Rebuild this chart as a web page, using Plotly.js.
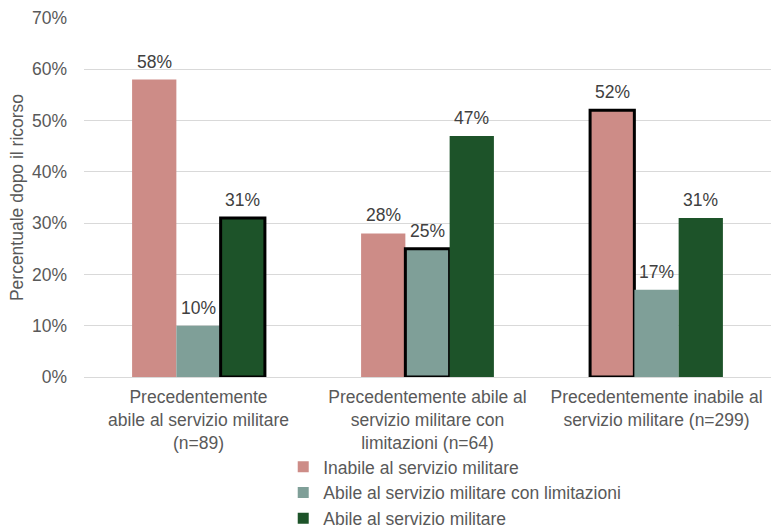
<!DOCTYPE html>
<html>
<head>
<meta charset="utf-8">
<script src="https://cdn.plot.ly/plotly-3.0.1.min.js"></script>
<style>html,body{margin:0;padding:0;background:#fff;}#chart{width:771px;height:528px;}</style>
</head>
<body>
<div id="chart"></div>
<script>
const categories = [
  "Precedentemente<br>abile al servizio militare<br>(n=89)",
  "Precedentemente abile al<br>servizio militare con<br>limitazioni (n=64)",
  "Precedentemente inabile al<br>servizio militare (n=299)"
];
const seriesNames = [
  "Inabile al servizio militare",
  "Abile al servizio militare con limitazioni",
  "Abile al servizio militare"
];
const inabile = [0.58, 0.28, 0.52];
const abileLimitazioni = [0.10, 0.25, 0.17];
const abile = [0.31, 0.47, 0.31];
const yTicks = [0, 0.1, 0.2, 0.3, 0.4, 0.5, 0.6, 0.7];

const colors = ["#CD8C87", "#7F9F98", "#1D5329"];
const values = [inabile, abileLimitazioni, abile];
// outline highlights: series i highlighted at category (2 - i)
const highlight = [[0,0,1],[0,1,0],[1,0,0]];

const font = "Liberation Sans, Arial, sans-serif";
const fs = 17.5;
const bargap = 0.42;
const nSeries = values.length;

const data = [];
values.forEach((v, i) => {
  data.push({
    type: "bar",
    name: seriesNames[i],
    x: categories,
    y: v,
    showlegend: false,
    marker: {
      color: colors[i],
      line: {color: "#000000", width: highlight[i].map(h => h ? 3 : 0)}
    },
    hoverinfo: "none"
  });
});
// legend entries (plain squares)
values.forEach((v, i) => {
  data.push({
    type: "scatter", mode: "markers",
    name: seriesNames[i],
    x: [categories[0]], y: [null],
    legendgroup: "g" + i,
    marker: {symbol: "square", size: 11, color: colors[i]},
    hoverinfo: "none"
  });
});

// value labels above bars
const annotations = [];
const barW = (1 - bargap) / nSeries;
values.forEach((v, i) => {
  v.forEach((d, c) => {
    annotations.push({
      x: c + (i - (nSeries - 1) / 2) * barW,
      y: d, xref: "x", yref: "y",
      text: Math.round(d * 100) + "%",
      showarrow: false, yanchor: "bottom", yshift: 6,
      font: {family: font, size: fs, color: "#404040"}
    });
  });
});

const layout = {
  width: 771, height: 528,
  margin: {l: 84, r: 0, t: 18, b: 151, autoexpand: false},
  paper_bgcolor: "#ffffff", plot_bgcolor: "#ffffff",
  font: {family: font, size: fs, color: "#595959"},
  barmode: "group",
  bargap: bargap,
  bargroupgap: 0,
  showlegend: true,
  annotations: annotations,
  legend: {
    orientation: "v", x: 0.29, xanchor: "left", y: -0.2, yanchor: "top",
    font: {family: font, size: fs, color: "#595959"},
    tracegroupgap: 1, traceorder: "normal", bgcolor: "rgba(0,0,0,0)"
  },
  xaxis: {
    automargin: false,
    tickfont: {family: font, size: fs, color: "#595959"},
    showline: true, linecolor: "#D9D9D9", linewidth: 1,
    ticks: "", showgrid: false, ticklabelstandoff: 4
  },
  yaxis: {
    automargin: false,
    range: [0, 0.7],
    tickvals: yTicks,
    tickformat: ".0%",
    tickfont: {family: font, size: fs, color: "#595959"},
    showgrid: true, gridcolor: "#D9D9D9", gridwidth: 1,
    zeroline: true, zerolinecolor: "#D9D9D9",
    ticks: "", ticklabelstandoff: 16,
    title: {text: "Percentuale dopo il ricorso", font: {family: font, size: fs, color: "#595959"}, standoff: 3}
  }
};

Plotly.newPlot("chart", data, layout, {displayModeBar: false, staticPlot: true});
</script>
</body>
</html>
